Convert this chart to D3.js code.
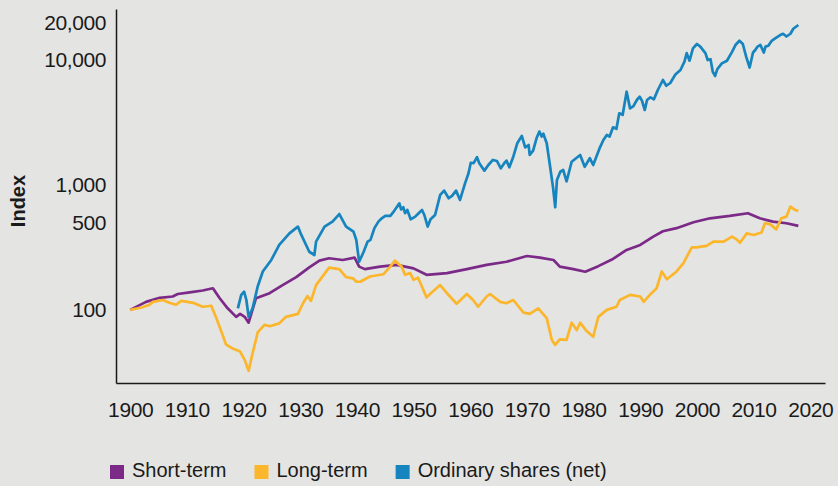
<!DOCTYPE html>
<html>
<head>
<meta charset="utf-8">
<script src="https://cdn.jsdelivr.net/npm/d3@7"></script>
<style>
    body { margin: 0; background: #e4e4e2; }
    svg { display: block; font-family: "Liberation Sans", Arial, sans-serif; }
    .axis path { stroke: #1a1a1a; stroke-width: 1.5; }
    .axis text { font-size: 21px; fill: #1a1a1a; letter-spacing: -0.4px; }
    .series { fill: none; stroke-width: 2.7; stroke-linejoin: round; }
</style>
</head>
<body>
<svg width="838" height="486"></svg>
<script>
// [year, index value], index = 100 at start
const shortTerm = [
    [1900,100],[1902.8,116],[1905.2,125],[1907.5,128],[1908.4,134],[1910.5,138],[1912.8,143],[1914.6,149],
    [1915.8,124],[1917.2,103],[1918.7,88],[1919.4,93],[1920.2,88],[1920.9,79],[1922.2,124],[1924.6,136],
    [1926.9,158],[1929.3,183],[1931.6,219],[1933.4,248],[1935.1,259],[1937.5,251],[1939.6,262],[1940.4,222],
    [1941.4,212],[1944.1,222],[1947,229],[1950,215],[1952.3,191],[1955.9,197],[1959.4,212],[1962.9,229],
    [1966.4,243],[1970,270],[1972.3,262],[1974.7,251],[1975.8,222],[1978.2,212],[1980.3,202],[1982.6,224],
    [1985,253],[1987.6,302],[1990,331],[1992.3,386],[1994,426],[1996.4,451],[1999.4,503],[2002.3,541],
    [2005.8,565],[2009,594],[2011.1,541],[2013.4,509],[2015.8,494],[2017.9,470]
];

const longTerm = [
    [1900,100],[1902.2,105],[1903.4,110],[1904,116],[1905.8,120],[1906.9,114],[1908.1,110],[1909,118],
    [1911.1,114],[1912.8,106],[1914.3,108],[1915.2,86],[1916.2,65],[1916.9,53],[1918.1,49],[1919.4,46.4],
    [1920.2,39.8],[1920.9,32.5],[1921.6,45],[1922.5,66],[1923.7,76],[1924.6,74],[1926.3,78],[1927.5,88],
    [1929.6,93],[1930.5,113],[1931.3,129],[1931.9,118],[1932.8,158],[1935.1,218],[1936.9,212],[1938.1,183],
    [1939.3,179],[1939.9,168],[1940.6,168],[1942.3,185],[1944.7,193],[1945.9,222],[1946.7,248],[1947.9,222],
    [1948.5,191],[1949.4,197],[1950,174],[1950.8,181],[1952.3,126],[1953.2,138],[1954.7,158],[1955.9,136],
    [1957.6,112],[1959.4,134],[1960.5,120],[1961.4,106],[1962.9,128],[1963.5,134],[1965.3,116],[1966.4,113],
    [1967.6,120],[1969.4,95],[1970.5,93],[1972,103],[1973.5,86],[1974.4,57.5],[1975,52.5],[1975.8,58],
    [1977,57.5],[1977.9,79],[1978.8,69],[1979.4,79],[1980.5,68],[1981.7,61],[1982.6,88],[1984.1,100],
    [1985.8,106],[1986.4,120],[1988.2,132],[1990,128],[1990.6,116],[1991.7,132],[1992.9,149],[1993.8,203],
    [1994.7,176],[1996.4,203],[1997.6,236],[1999.1,317],[1999.9,317],[2001.7,325],[2002.9,352],[2004.7,352],
    [2006.2,386],[2007,367],[2007.6,345],[2008.8,410],[2010,398],[2011.4,416],[2012,494],[2012.9,486],
    [2014,441],[2014.9,541],[2015.8,558],[2016.5,671],[2017.3,631],[2017.9,620]
];

const shares = [
    [1919,103],[1919.6,132],[1920.1,140],[1920.5,120],[1920.9,88],[1921.6,103],[1922.5,154],[1923.4,203],
    [1924.9,251],[1926.3,331],[1928.1,410],[1929.6,464],[1930.2,398],[1931.6,292],[1932.5,275],[1932.8,352],
    [1934.3,464],[1935.7,509],[1936.9,585],[1938.1,464],[1939.4,423],[1939.9,363],[1940.4,243],[1941.2,292],
    [1941.9,352],[1942.4,363],[1943.1,451],[1943.8,509],[1944.4,541],[1945,565],[1945.9,565],[1946.5,612],
    [1946.9,650],[1947.5,712],[1947.8,637],[1948.2,663],[1948.5,594],[1948.9,631],[1949.5,531],[1950.3,558],
    [1950.9,594],[1951.5,631],[1951.9,575],[1952.5,464],[1953,531],[1953.8,575],[1954.7,832],[1955.4,901],
    [1956.2,783],[1956.8,817],[1957.5,901],[1958.2,759],[1959.1,1034],[1959.7,1242],[1960.1,1505],[1960.6,1494],
    [1961.2,1665],[1961.6,1494],[1962.5,1302],[1963.2,1445],[1964,1585],[1964.7,1556],[1965.4,1360],[1966,1494],
    [1966.4,1566],[1966.9,1386],[1967.6,1684],[1968.3,2155],[1969.1,2470],[1969.7,2000],[1970.3,2088],[1970.5,1738],
    [1971.1,1884],[1971.7,2363],[1972.2,2675],[1972.6,2441],[1972.9,2570],[1973.5,2155],[1974.1,1397],[1974.6,966],
    [1975,663],[1975.3,1096],[1975.9,1276],[1976.4,1318],[1977,1066],[1977.9,1534],[1979.4,1738],[1980.2,1397],
    [1981.1,1637],[1981.7,1445],[1982.9,2000],[1983.5,2291],[1984.1,2512],[1984.6,2441],[1985.2,2892],[1985.8,2812],
    [1986.3,3745],[1986.9,3640],[1987.6,5575],[1988.2,4100],[1988.8,4277],[1989.4,4786],[1989.9,5085],[1990.3,4728],
    [1990.8,3981],[1991.2,4786],[1991.8,5030],[1992.4,4842],[1993.1,5754],[1994,6918],[1994.6,6223],[1995.3,6546],
    [1996.2,7650],[1997.1,8318],[1997.8,9710],[1998.2,11350],[1998.7,9870],[1999.3,12400],[2000,13430],[2000.6,12800],
    [2001.5,11350],[2001.9,10000],[2002.4,10150],[2002.8,8050],[2003.2,7450],[2003.6,8460],[2004.4,9400],[2005.3,9870],
    [2006.2,11620],[2006.8,13180],[2007.5,14250],[2008.1,13430],[2008.7,10590],[2009.3,8710],[2009.9,11480],[2010.3,12020],
    [2010.7,12800],[2011.2,13180],[2011.8,11480],[2012.1,12800],[2012.6,12990],[2013.2,14250],[2013.8,14900],[2014.7,15850],
    [2015.2,16220],[2015.8,15420],[2016.5,16220],[2017,17780],[2017.9,19050]
];

const xTicks = [1900, 1910, 1920, 1930, 1940, 1950, 1960, 1970, 1980, 1990, 2000, 2010, 2020];
const yTicks = [100, 500, 1000, 10000, 20000];

const seriesNames = ["Short-term", "Long-term", "Ordinary shares (net)"];
const seriesColors = ["#7b2a88", "#fcb62b", "#1684be"];
const seriesData = [shortTerm, longTerm, shares];

var svg = d3.select("svg");

var x = d3.scaleLinear().domain([1897.5, 2022.6]).range([116, 825]);
var y = d3.scaleLog().domain([26, 25600]).range([383, 9]);

svg.append("g")
    .attr("class", "axis")
    .attr("transform", "translate(0,383)")
    .call(d3.axisBottom(x).tickValues(xTicks).tickFormat(d3.format("d")).tickSize(0).tickPadding(19));

svg.append("g")
    .attr("class", "axis")
    .attr("transform", "translate(116,0)")
    .call(d3.axisLeft(y).tickValues(yTicks).tickFormat(d3.format(",")).tickSize(0).tickPadding(10));

// let the css decide the tick font
svg.selectAll(".axis").attr("font-family", null).attr("font-size", null);

svg.append("text")
    .attr("transform", "translate(25,201) rotate(-90)")
    .attr("text-anchor", "middle")
    .attr("font-size", 20)
    .attr("font-weight", "bold")
    .attr("fill", "#1a1a1a")
    .text("Index");

var line = d3.line()
    .x(d => x(d[0]))
    .y(d => y(d[1]));

svg.append("g")
    .selectAll("path")
    .data(seriesData)
    .enter().append("path")
    .attr("class", "series")
    .attr("stroke", (d, i) => seriesColors[i])
    .attr("d", line);

// legend, laid out left to right
var legend = svg.append("g").attr("transform", "translate(110,465)");
var lx = 0;
seriesNames.forEach((name, i) => {
    var item = legend.append("g").attr("transform", `translate(${lx},0)`);
    item.append("rect")
        .attr("width", 14)
        .attr("height", 14)
        .attr("fill", seriesColors[i]);
    var t = item.append("text")
        .attr("x", 22)
        .attr("y", 12)
        .attr("font-size", 20)
        .attr("fill", "#1a1a1a")
        .text(name);
    lx += 22 + t.node().getComputedTextLength() + 28;
});
</script>
</body>
</html>
